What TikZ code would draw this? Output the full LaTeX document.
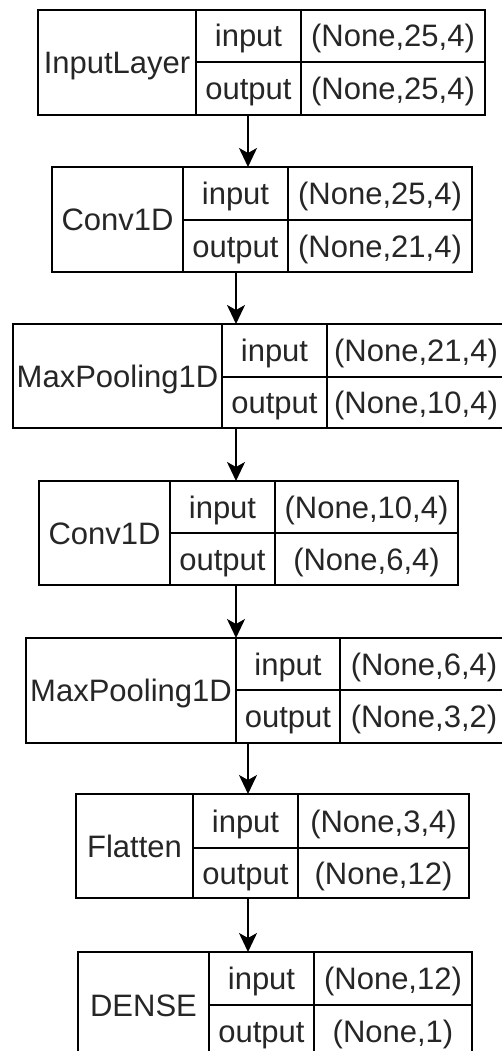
\documentclass[tikz,border=0pt]{standalone}
\usepackage{fontspec}
\setmainfont{Liberation Sans}
\usetikzlibrary{arrows.meta}
\tikzset{
  cellbox/.style={draw=black, line width=1.8pt, rectangle, inner sep=0pt, outer sep=0pt,
    font=\fontsize{31}{36}\selectfont, text=black!85, text height=22pt, text depth=0pt, align=center},
  arr/.style={line width=1.8pt, -{Stealth[length=19pt, width=18pt, inset=5pt]}}
}
\newcommand\cellnode[6]{\node[cellbox, minimum width={(#4-#2)*1pt}, minimum height={(#5-#3)*1pt}] (#1) at ({(#2+#4)/2},{-(#3+#5)/2}) {#6};}
\newcommand\layerblock[9]{%
  \cellnode{n#1}{#2}{#5}{#3}{#7}{#8}
  \cellnode{i#1}{#3}{#5}{#4}{#6}{input}
  \cellnode{o#1}{#3}{#6}{#4}{#7}{output}
  \layerval{#1}{#4}{#5}{#6}{#7}#9}
\newcommand\layerval[7]{%
  \cellnode{iv#1}{#2}{#3}{#6}{#4}{#7}
  \cellnode{ov#1}{#2}{#4}{#6}{#5}}
\begin{document}
\begin{tikzpicture}[x=1pt,y=1pt]
\useasboundingbox (0,0) rectangle (502,-1051);
\fill[white] (0,0) rectangle (502,-1051);
\clip (0,0) rectangle (502,-1051);
% id, left, div1, div2, top, mid, bottom, name, {right}{input val}{output val}
\layerblock{1}{38}{196}{301}{10}{62}{115}{InputLayer}{{485}{(None,25,4)}{(None,25,4)}}
\layerblock{2}{52}{183}{288}{167}{220}{272}{Conv1D}{{472}{(None,25,4)}{(None,21,4)}}
\layerblock{3}{13}{222}{327}{324}{377}{428}{MaxPooling1D}{{505}{(None,21,4)}{(None,10,4)}}
\layerblock{4}{39}{170}{275}{481}{533}{585}{Conv1D}{{458}{(None,10,4)}{(None,6,4)}}
\layerblock{5}{26}{236}{340}{638}{690}{743}{MaxPooling1D}{{508}{(None,6,4)}{(None,3,2)}}
\layerblock{6}{76}{193}{298}{794}{848}{898}{Flatten}{{469}{(None,3,4)}{(None,12)}}
\layerblock{7}{78}{209}{314}{952}{1005}{1058}{DENSE}{{472}{(None,12)}{(None,1)}}
\coordinate (xa) at (248,0);
\coordinate (xb) at (236,0);
\draw[arr] (o1.south -| xa) -- (i2.north -| xa);
\draw[arr] (o2.south -| xb) -- (i3.north -| xb);
\draw[arr] (o3.south -| xb) -- (i4.north -| xb);
\draw[arr] (o4.south -| xb) -- (n5.north -| xb);
\draw[arr] (o5.south -| xa) -- (i6.north -| xa);
\draw[arr] (o6.south -| xa) -- (i7.north -| xa);
\end{tikzpicture}
\end{document}
